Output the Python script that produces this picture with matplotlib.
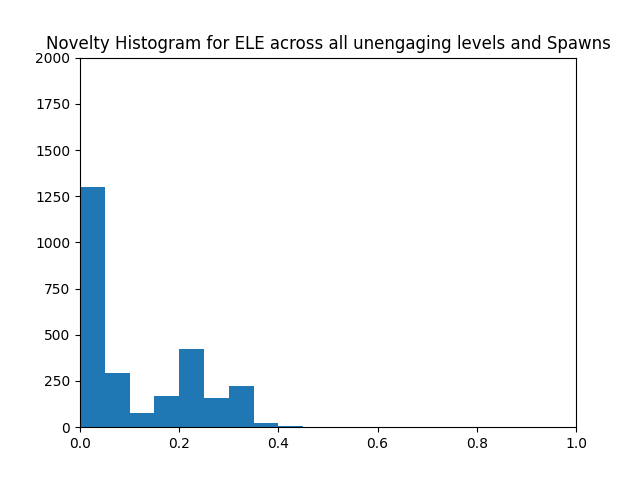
import numpy as np
import matplotlib.pyplot as plt

bin_edges = np.linspace(0, 1, 21)
counts = [1300, 294, 77, 168, 423, 157, 222, 22, 5, 0, 0, 0, 0, 0, 0, 0, 0, 0, 0, 0]

fig = plt.figure(figsize=(6.4, 4.8), dpi=100)
plt.hist(bin_edges[:-1], bins=bin_edges, weights=counts)
plt.xlim(0, 1)
plt.ylim(0, 2000)
plt.title('Novelty Histogram for ELE across all unengaging levels and Spawns')
plt.savefig('out.png')
